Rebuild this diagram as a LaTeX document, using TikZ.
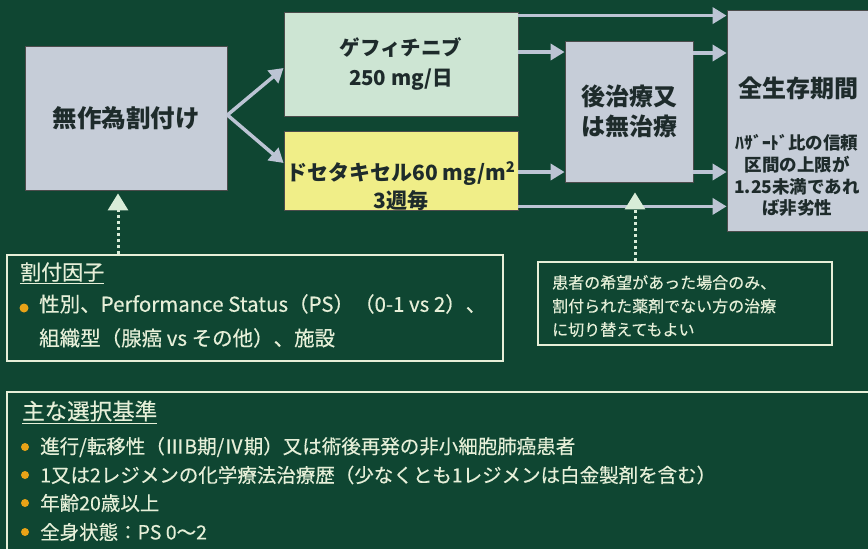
\documentclass[tikz,border=0pt]{standalone}
\usepackage{fontspec}
\setmainfont{Noto Sans CJK JP}
\newfontfamily\jpm[FakeBold=0.3]{Noto Sans CJK JP}
\usetikzlibrary{arrows.meta}
\definecolor{bg}{HTML}{0F4632}
\definecolor{greybox}{HTML}{C6CDD8}
\definecolor{mintbox}{HTML}{CDE5D3}
\definecolor{yelbox}{HTML}{F0EE88}
\definecolor{txtdark}{HTML}{1E2B2B}
\definecolor{arrowc}{HTML}{BCC4D4}
\definecolor{cream}{HTML}{E6EFD8}
\definecolor{dotc}{HTML}{D8ECD8}
\definecolor{bulletc}{HTML}{E8A317}
\tikzset{
  box/.style={draw=black!70, line width=0.8pt, inner sep=0pt, align=center, text=txtdark},
  btxt/.style={inner sep=0pt, align=center, text=txtdark, font=\bfseries},
  arr/.style={draw=arrowc, line width=3.5pt, -{Triangle[length=14pt,width=16pt]}},
  dotarr/.style={draw=dotc, line width=3pt, dash pattern=on 3pt off 3pt, -{Triangle[length=17pt,width=20pt,fill=dotc]}},
  outl/.style={draw=cream, line width=1.8pt},
  wtxt/.style={inner sep=0pt, text=cream, anchor=west, align=left},
  bul/.style={circle, fill=bulletc, inner sep=0pt, minimum size=8pt}
}
\begin{document}
\begin{tikzpicture}[x=1pt,y=-1pt]
\useasboundingbox (0,0) rectangle (868,549);
\fill[bg] (0,0) rectangle (868,549);

% main boxes
\node[box, fill=greybox, minimum width=202pt, minimum height=144pt,
  font=\bfseries\fontsize{24.5}{28}\selectfont] (rand) at (126,118) {無作為割付け};
\node[box, fill=mintbox, minimum width=234pt, minimum height=104pt,
  font=\bfseries\fontsize{20.5}{30}\selectfont] (gef) at (401,64) {ゲフィチニブ\\250 mg/日};
\node[box, fill=yelbox, minimum width=234pt, minimum height=79pt] (doce) at (401,170.5) {};
\node[btxt, font=\bfseries\fontsize{21}{28}\selectfont] (docetxt) at ([yshift=-15.5pt]doce.center)
  {ドセタキセル60 mg/m\textsuperscript{2}\\3週毎};
\node[box, fill=greybox, minimum width=128pt, minimum height=141pt,
  font=\bfseries\fontsize{24}{30}\selectfont] (post) at (629,111.5) {後治療又\\は無治療};
\node[box, fill=greybox, minimum width=148pt, minimum height=221pt] (os) at (801,120.5) {};
\node[btxt, font=\bfseries\fontsize{24}{28}\selectfont] (ostitle) at (798,88) {全生存期間};
\node[btxt, font=\bfseries\fontsize{17.5}{21.8}\selectfont] (osnote) at (797,175.5)
  {ﾊｻﾞｰﾄﾞ比の信頼\\区間の上限が\\1.25未満であれ\\ば非劣性};

% arrows from randomisation
\coordinate (split) at ([yshift=3pt]rand.east);
\draw[arr] (split) -- ([yshift=-4pt]gef.west);
\draw[arr] (split) -- ([yshift=7.5pt]doce.west);

% arrows to post / OS
\coordinate (g1) at ([yshift=-4pt]gef.north east);
\draw[arr] (g1) -- (g1 -| os.west);
\coordinate (g2) at ([yshift=12pt]gef.east);
\draw[arr] (g2) -- (g2 -| post.west);
\coordinate (p2) at ([yshift=-1pt]g2 -| post.east);
\draw[arr] (p2) -- (p2 -| os.west);
\coordinate (d1) at ([yshift=-1.5pt]doce.east);
\draw[arr] (d1) -- (d1 -| post.west);
\draw[arr] (d1 -| post.east) -- (d1 -| os.west);
\coordinate (d2) at ([yshift=4pt]doce.south east);
\draw[arr] (d2) -- (d2 -| os.west);

% factors box
\node[outl, minimum width=496pt, minimum height=106pt, inner sep=0pt] (fac) at (255,308) {};
\node[wtxt, font=\jpm\fontsize{21}{24}\selectfont] (factitle) at (20,273) {\underline{割付因子}};
\node[bul, minimum size=9pt] (facb) at (24,308) {};
\node[wtxt, font=\jpm\fontsize{20.5}{34}\selectfont, anchor=north west] (factxt) at (39,294)
  {性別、Performance Status（PS）（0-1 vs 2）、\\組織型（腺癌 vs その他）、施設};

% note box
\node[outl, minimum width=294pt, minimum height=83pt, inner sep=0pt] (note) at (685,303.5) {};
\node[wtxt, font=\jpm\fontsize{16}{23.5}\selectfont] (notetxt) at (552,306)
  {患者の希望があった場合のみ、\\割付られた薬剤でない方の治療\\に切り替えてもよい};

% dotted arrows
\coordinate (ra) at ([xshift=-8pt]rand.south);
\draw[dotarr, shorten >=3pt] (fac.north -| ra) -- (ra);
\coordinate (pa) at ([xshift=6pt]post.south);
\draw[dotarr, shorten >=10pt] (note.north -| pa) -- (pa);

% criteria box
\draw[outl] (7,392) rectangle (880,560);
\node[wtxt, font=\jpm\fontsize{22.5}{26}\selectfont] (crit) at (22,412) {\underline{主な選択基準}};
\node[bul] (cb1) at (25,447) {};
\node[bul] (cb2) at (25,475) {};
\node[bul] (cb3) at (25,503) {};
\node[bul] (cb4) at (25,532) {};
\tikzset{ctxt/.style={wtxt, font=\jpm\fontsize{19.5}{22}\selectfont}}
\node[ctxt] (c1) at (40,447) {進行/転移性（ⅢB期/Ⅳ期）又は術後再発の非小細胞肺癌患者};
\node[ctxt] (c2) at (40,475) {1又は2レジメンの化学療法治療歴（少なくとも1レジメンは白金製剤を含む）};
\node[ctxt] (c3) at (40,503) {年齢20歳以上};
\node[ctxt] (c4) at (40,532) {全身状態：PS 0～2};
\end{tikzpicture}
\end{document}
